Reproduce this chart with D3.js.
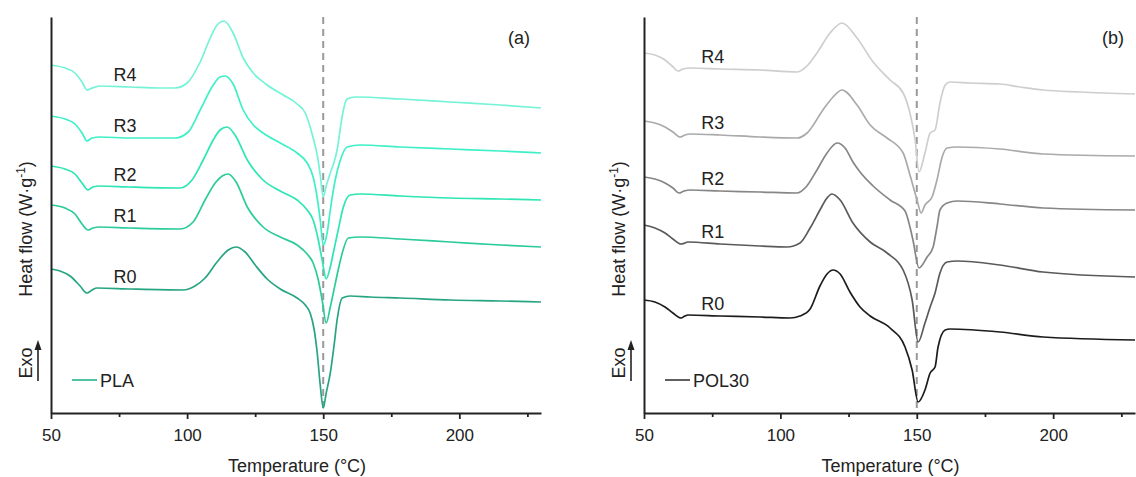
<!DOCTYPE html>
<html>
<head>
<meta charset="utf-8">
<script src="https://cdn.jsdelivr.net/npm/d3@7"></script>
<style>
body { margin: 0; background: #fff; }
svg { display: block; font-family: Arial, "Liberation Sans", sans-serif; }
</style>
</head>
<body>
<svg id="chart" width="1136" height="477"></svg>
<script>
// DSC heating curves, [temperature (°C), heat flow (W/g, stacked offset)]
var series_names = ['R0', 'R1', 'R2', 'R3', 'R4'];
var x_ticks = [50, 100, 150, 200];
var x_minor = [75, 125, 175, 225];

var pla_R0 = [[50,1.44],[53.3,1.42],[57,1.37],[60.7,1.27],[63.2,1.20],[65.1,1.23],[66.9,1.25],[79,1.24],[98.5,1.23],
  [102.9,1.27],[106.6,1.35],[111,1.51],[115.1,1.63],[118,1.66],[121.3,1.61],[125,1.48],[129.4,1.34],[134.2,1.24],
  [140.4,1.15],[143.4,1.08],[145.2,1.00],[146.7,0.83],[147.8,0.60],[148.9,0.28],[150,0.05],[151.1,0.20],[152.6,0.40],
  [154,0.68],[155.1,0.93],[157,1.15],[159.9,1.17],[167.3,1.16],[178.3,1.15],[196.7,1.13],[215.1,1.12],[230,1.11]];
var pla_R1 = [[50,2.08],[55.1,2.05],[58.8,1.99],[61.4,1.89],[63.6,1.83],[65.4,1.85],[68,1.86],[79,1.85],[97.4,1.84],
  [102.2,1.91],[106.6,2.13],[110.3,2.30],[112.9,2.37],[115.1,2.39],[118,2.31],[122.1,2.06],[127.9,1.86],[134.2,1.76],
  [140.4,1.68],[144.1,1.59],[146.3,1.50],[148.2,1.33],[149.6,1.13],[151.1,0.90],[152.6,1.06],[153.7,1.20],[155.5,1.43],
  [157,1.60],[159.2,1.75],[163.6,1.76],[178.3,1.74],[196.7,1.71],[215.1,1.68],[230,1.66]];
var pla_R2 = [[50,2.47],[55.1,2.44],[58.8,2.39],[61.4,2.30],[63.6,2.23],[65.4,2.26],[68,2.27],[79,2.26],[97.4,2.25],
  [101.8,2.33],[105.9,2.53],[109.6,2.73],[112.1,2.83],[114.7,2.86],[117.6,2.78],[122.1,2.53],[127.9,2.33],[134.2,2.22],
  [140.4,2.13],[144.1,2.03],[146.3,1.93],[148.2,1.73],[149.6,1.53],[151.1,1.34],[152.6,1.46],[153.7,1.60],[155.5,1.83],
  [157.4,2.06],[159.9,2.18],[163.6,2.19],[178.3,2.17],[196.7,2.15],[215.1,2.14],[230,2.13]];
var pla_R3 = [[50,2.97],[55.1,2.94],[58.8,2.89],[61.4,2.80],[63.2,2.72],[65.1,2.75],[68,2.76],[79,2.75],[95.6,2.75],
  [100.4,2.81],[104.8,3.03],[109.6,3.28],[112.1,3.36],[114,3.37],[116.9,3.29],[120.6,3.03],[124.3,2.88],[127.9,2.80],
  [134.2,2.70],[140.4,2.60],[144.1,2.50],[146.3,2.36],[147.8,2.15],[148.9,1.93],[150,1.68],[151.5,1.81],[152.6,2.03],
  [154.4,2.33],[156.3,2.53],[158.8,2.66],[163.6,2.68],[178.3,2.66],[196.7,2.64],[215.1,2.62],[230,2.60]];
var pla_R4 = [[50,3.48],[55.1,3.45],[58.8,3.40],[61.4,3.31],[63.2,3.23],[64.3,3.24],[66.2,3.26],[68,3.27],[79,3.26],
  [90.1,3.25],[95.6,3.25],[100,3.30],[104.8,3.51],[108.5,3.75],[111,3.88],[113.6,3.92],[116.9,3.80],[120.6,3.55],
  [124.3,3.40],[129.4,3.28],[135.3,3.18],[140.4,3.09],[143.4,3.00],[145.2,2.86],[146.7,2.71],[147.8,2.58],[148.9,2.38],
  [150,2.16],[151.1,2.27],[152.6,2.40],[154,2.51],[155.1,2.63],[156.3,2.85],[157.4,3.03],[158.8,3.14],[161.8,3.16],
  [178.3,3.14],[196.7,3.11],[215.1,3.08],[230,3.05]];

var pol_R0 = [[50,1.13],[54,1.11],[57.7,1.06],[60.6,1.00],[63.6,0.95],[65,0.97],[66.1,0.98],[77.9,0.97],[92.5,0.96],
  [103.5,0.95],[107.2,0.97],[110.9,1.04],[114.5,1.27],[117.1,1.39],[119.3,1.43],[121.9,1.39],[125.5,1.21],[129.2,1.06],
  [132.9,0.97],[140.2,0.85],[145.7,0.66],[148.3,0.43],[150.5,0.11],[153,0.23],[154.9,0.40],[156.7,0.46],[157.8,0.66],
  [160.4,0.83],[162.2,0.84],[180.5,0.81],[196.3,0.76],[230,0.73]];
var pol_R1 = [[50,1.88],[54,1.85],[57.7,1.80],[60.6,1.74],[63.6,1.69],[65,1.70],[66.1,1.71],[77.9,1.69],[92.5,1.67],
  [102.4,1.66],[107.2,1.70],[110.9,1.85],[114.5,2.03],[117.1,2.15],[118.9,2.19],[121.9,2.13],[126.6,1.90],[132.9,1.71],
  [139.1,1.60],[145,1.43],[148.3,1.13],[150.5,0.71],[153,0.90],[154.9,1.06],[156.7,1.20],[158.5,1.40],[161.1,1.51],
  [164.8,1.52],[180.5,1.48],[196.3,1.41],[230,1.36]];
var pol_R2 = [[50,2.36],[54,2.34],[57.7,2.30],[60.6,2.25],[62.8,2.20],[64.7,2.22],[66.9,2.23],[77.9,2.22],[92.5,2.21],
  [106.1,2.20],[109.4,2.26],[113.4,2.43],[117.1,2.60],[120.8,2.70],[123.7,2.65],[126.6,2.51],[129.2,2.41],[134,2.27],
  [140.2,2.13],[145.7,2.02],[147.5,1.86],[148.6,1.73],[150.8,1.45],[153.8,1.56],[156,1.66],[157.4,1.86],[158.5,2.03],
  [161.1,2.10],[164.8,2.12],[180.5,2.09],[196.3,2.05],[230,2.03]];
var pol_R3 = [[50,2.92],[54,2.90],[57.7,2.86],[60.6,2.81],[63.2,2.76],[65,2.78],[66.9,2.79],[77.9,2.78],[92.5,2.76],
  [106.1,2.75],[109.8,2.80],[115.6,3.03],[119.3,3.16],[122.6,3.23],[128.1,3.08],[132.9,2.88],[139.1,2.75],[145,2.60],
  [147.5,2.38],[150.1,2.13],[151.6,2.00],[153,2.08],[155.6,2.16],[157.4,2.33],[159.3,2.56],[161.1,2.65],[164.8,2.66],
  [180.5,2.64],[196.3,2.59],[230,2.57]];
var pol_R4 = [[50,3.60],[54,3.58],[57.7,3.53],[60.3,3.47],[62.5,3.42],[64.3,3.44],[66.9,3.45],[77.9,3.44],[92.5,3.43],
  [106.1,3.41],[110.1,3.48],[113.4,3.60],[118.2,3.80],[122.6,3.90],[128.1,3.75],[134,3.51],[140.2,3.33],[145,3.20],
  [147.5,3.00],[149.4,2.73],[150.8,2.41],[153,2.60],[154.9,2.80],[156.7,2.83],[158.5,3.10],[160.4,3.28],[162.2,3.31],
  [169.5,3.30],[180.5,3.29],[187.9,3.26],[196.3,3.23],[209.9,3.21],[230,3.19]];

var pla_colors = ['#27a583', '#2ccb9a', '#2de6b3', '#3ef0c7', '#74f3d8'];
var pol_colors = ['#1c1c1c', '#5a5a5a', '#868686', '#aaaaaa', '#cecece'];

var svg = d3.select('#chart');

var yscale = d3.scaleLinear().domain([0, 3.96]).range([413, 17]);

function valueAt(data, t) {
  for (var i = 0; i < data.length - 1; i++) {
    if (t >= data[i][0] && t <= data[i+1][0]) {
      var f = (t - data[i][0]) / (data[i+1][0] - data[i][0]);
      return data[i][1] + f * (data[i+1][1] - data[i][1]);
    }
  }
  return data[data.length-1][1];
}

function drawPanel(p) {
  var xscale = d3.scaleLinear().domain([50, 230]).range([p.left, p.right]);
  var g = svg.append('g');

  // dashed reference at 150 °C
  g.append('line')
    .attr('x1', xscale(150)).attr('x2', xscale(150))
    .attr('y1', yscale.range()[1]).attr('y2', yscale.range()[0])
    .attr('stroke', '#999').attr('stroke-width', 2)
    .attr('stroke-dasharray', '7,5');

  var line = d3.line()
    .x(function(d) { return xscale(d[0]); })
    .y(function(d) { return yscale(d[1]); })
    .curve(d3.curveMonotoneX);

  p.curves.forEach(function(c, i) {
    g.append('path')
      .attr('d', line(c))
      .attr('fill', 'none')
      .attr('stroke', p.colors[i])
      .attr('stroke-width', 1.7);

    g.append('text')
      .attr('x', xscale(p.labelT))
      .attr('y', yscale(valueAt(c, p.labelT + 4)) - 6)
      .attr('font-size', 18)
      .attr('fill', '#222')
      .text(series_names[i]);
  });

  // axes
  var xaxis = d3.axisBottom(xscale).tickValues(x_ticks).tickSize(6).tickPadding(10).tickSizeOuter(0);
  var gx = g.append('g').attr('transform', 'translate(0,' + yscale.range()[0] + ')').call(xaxis);
  gx.selectAll('text').attr('font-size', 17).attr('font-family', 'Arial, "Liberation Sans", sans-serif').attr('fill', '#222');
  var gm = g.append('g').attr('transform', 'translate(0,' + yscale.range()[0] + ')')
    .call(d3.axisBottom(xscale).tickValues(x_minor).tickSize(4).tickFormat('').tickSizeOuter(0));
  gm.select('.domain').remove();
  g.selectAll('.tick line').attr('stroke', '#222').attr('stroke-width', 1.8);
  gx.select('.domain').attr('stroke', '#222').attr('stroke-width', 2);

  var gy = g.append('g').attr('transform', 'translate(' + p.left + ',0)')
    .call(d3.axisLeft(yscale).tickValues([]).tickSizeOuter(0));
  gy.select('.domain').attr('stroke', '#222').attr('stroke-width', 2);

  // axis titles
  g.append('text')
    .attr('x', (p.left + p.right) / 2 + 1)
    .attr('y', 472)
    .attr('text-anchor', 'middle')
    .attr('font-size', 18).attr('fill', '#222')
    .text('Temperature (°C)');

  var yt = g.append('text')
    .attr('transform', 'translate(' + (p.left - 19) + ',229) rotate(-90)')
    .attr('text-anchor', 'middle')
    .attr('font-size', 18).attr('fill', '#222');
  yt.append('tspan').text('Heat flow (W·g');
  yt.append('tspan').attr('font-size', 12).attr('dy', -7).text('-1');
  yt.append('tspan').attr('dy', 7).text(')');

  // Exo arrow
  g.append('text')
    .attr('transform', 'translate(' + (p.left - 19) + ',363) rotate(-90)')
    .attr('text-anchor', 'middle')
    .attr('font-size', 18).attr('fill', '#222')
    .text('Exo');
  var ax = p.left - 13;
  g.append('line').attr('x1', ax).attr('x2', ax).attr('y1', 381).attr('y2', 348)
    .attr('stroke', '#222').attr('stroke-width', 1.6);
  g.append('path')
    .attr('d', d3.line()([[ax - 3.5, 350], [ax, 340], [ax + 3.5, 350]]) + 'Z')
    .attr('fill', '#222');

  // legend
  g.append('line')
    .attr('x1', p.left + 21).attr('x2', p.left + 46)
    .attr('y1', 380).attr('y2', 380)
    .attr('stroke', p.legendColor).attr('stroke-width', 1.7);
  g.append('text')
    .attr('x', p.left + 49).attr('y', 386.5)
    .attr('font-size', 18).attr('fill', '#222')
    .text(p.legend);

  // panel tag
  g.append('text')
    .attr('x', p.right - 22).attr('y', 44)
    .attr('text-anchor', 'middle')
    .attr('font-size', 18).attr('fill', '#222')
    .text(p.tag);
}

drawPanel({ left: 51, right: 541, curves: [pla_R0, pla_R1, pla_R2, pla_R3, pla_R4],
  colors: pla_colors, legend: 'PLA', legendColor: '#35b893', tag: '(a)', labelT: 73 });
drawPanel({ left: 644, right: 1135, curves: [pol_R0, pol_R1, pol_R2, pol_R3, pol_R4],
  colors: pol_colors, legend: 'POL30', legendColor: '#444', tag: '(b)', labelT: 71 });
</script>
</body>
</html>
